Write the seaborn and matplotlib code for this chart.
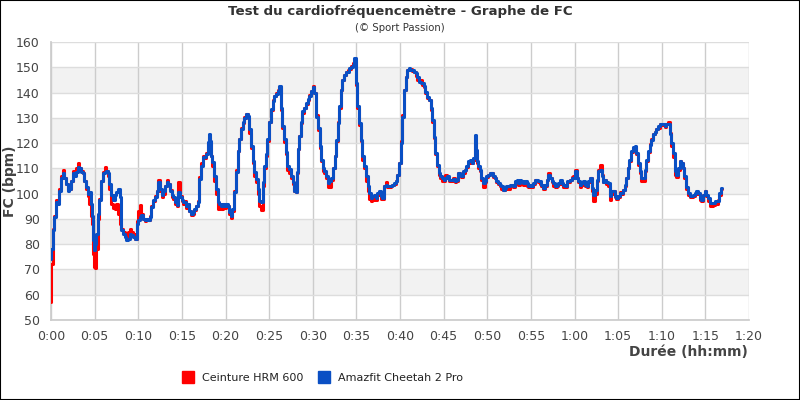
import matplotlib
matplotlib.use("Agg")
import matplotlib.pyplot as plt
from matplotlib.lines import Line2D
from matplotlib.patches import Rectangle
import seaborn as sns
import pandas as pd

# ---- data (minutes, bpm) ----
time_min = [
    0.0, 0.1, 0.27, 0.46, 0.65, 0.85, 1.04, 1.23, 1.42, 1.6, 1.8, 2.0, 2.2, 2.4, 2.6, 2.77, 2.96, 3.15, 3.35, 3.5,
    3.73, 3.9, 4.1, 4.3, 4.5, 4.6, 4.7, 4.9, 5.0, 5.15, 5.27, 5.46, 5.65, 5.85, 6.04, 6.23, 6.4, 6.6, 6.8, 7.0,
    7.2, 7.38, 7.58, 7.77, 7.96, 8.15, 8.35, 8.5, 8.7, 8.9, 9.1, 9.3, 9.5, 9.7, 9.9, 10.08, 10.27, 10.46, 10.65, 10.85,
    11.04, 11.2, 11.4, 11.6, 11.8, 12.0, 12.2, 12.4, 12.6, 12.77, 12.96, 13.15, 13.35, 13.5, 13.73, 13.9, 14.1, 14.3, 14.5, 14.7,
    14.9, 15.1, 15.2, 15.4, 15.6, 15.76, 15.95, 16.15, 16.3, 16.5, 16.7, 16.9, 17.1, 17.3, 17.5, 17.67, 17.86, 18.05, 18.17, 18.3,
    18.4, 18.6, 18.8, 19.0, 19.2, 19.4, 19.6, 19.8, 19.96, 20.15, 20.34, 20.5, 20.65, 20.84, 21.1, 21.3, 21.5, 21.7, 21.9, 22.06,
    22.25, 22.44, 22.63, 22.82, 23.0, 23.2, 23.4, 23.6, 23.8, 23.97, 24.16, 24.35, 24.55, 24.7, 24.9, 25.1, 25.3, 25.5, 25.7, 25.9,
    26.07, 26.26, 26.45, 26.6, 26.8, 27.0, 27.2, 27.4, 27.6, 27.8, 28.0, 28.1, 28.25, 28.4, 28.55, 28.75, 28.9, 29.1, 29.3, 29.5,
    29.7, 29.9, 30.08, 30.27, 30.5, 30.7, 30.9, 31.05, 31.24, 31.4, 31.6, 31.8, 32.0, 32.2, 32.4, 32.6, 32.8, 32.95, 33.1, 33.3,
    33.5, 33.7, 33.9, 34.1, 34.28, 34.47, 34.66, 34.85, 34.96, 35.04, 35.2, 35.4, 35.6, 35.8, 36.0, 36.2, 36.4, 36.6, 36.75, 36.94,
    37.1, 37.3, 37.5, 37.7, 37.9, 38.08, 38.27, 38.46, 38.65, 38.84, 39.03, 39.2, 39.4, 39.6, 39.8, 39.98, 40.17, 40.36, 40.55, 40.74,
    40.93, 41.1, 41.3, 41.5, 41.7, 41.9, 42.07, 42.26, 42.45, 42.64, 42.83, 43.0, 43.2, 43.4, 43.6, 43.78, 43.97, 44.16, 44.35, 44.5,
    44.7, 44.9, 45.1, 45.3, 45.5, 45.8, 46.0, 46.2, 46.4, 46.55, 46.74, 46.9, 47.1, 47.3, 47.5, 47.7, 47.9, 48.1, 48.3, 48.5,
    48.6, 48.66, 48.8, 48.9, 49.04, 49.2, 49.4, 49.6, 49.8, 50.0, 50.2, 50.38, 50.57, 50.77, 50.96, 51.15, 51.34, 51.5, 51.7, 51.9,
    52.1, 52.3, 52.5, 52.7, 52.9, 53.07, 53.26, 53.45, 53.64, 53.83, 54.0, 54.2, 54.4, 54.6, 54.8, 55.0, 55.2, 55.36, 55.55, 55.75,
    55.94, 56.13, 56.3, 56.5, 56.7, 56.9, 57.1, 57.3, 57.47, 57.66, 57.85, 58.05, 58.24, 58.43, 58.6, 58.8, 59.0, 59.2, 59.4, 59.58,
    59.77, 59.96, 60.15, 60.34, 60.5, 60.7, 60.9, 61.1, 61.3, 61.5, 61.7, 61.9, 62.07, 62.26, 62.45, 62.6, 62.8, 63.0, 63.2, 63.36,
    63.55, 63.74, 63.93, 64.1, 64.3, 64.5, 64.7, 64.9, 65.08, 65.27, 65.46, 65.65, 65.84, 66.03, 66.2, 66.4, 66.6, 66.8, 67.0, 67.2,
    67.37, 67.56, 67.75, 67.94, 68.13, 68.3, 68.5, 68.7, 68.9, 69.08, 69.27, 69.47, 69.66, 69.85, 70.04, 70.23, 70.42, 70.6, 70.8, 71.0,
    71.2, 71.37, 71.56, 71.75, 71.95, 72.14, 72.3, 72.5, 72.7, 72.9, 73.1, 73.3, 73.47, 73.66, 73.85, 74.04, 74.24, 74.43, 74.6, 74.8,
    75.0, 75.2, 75.38, 75.57, 75.76, 75.95, 76.15, 76.3, 76.5, 76.7, 76.9,
]

hr_amazfit = [
    74, 78, 85.5, 90.8, 96.7, 96, 101, 106, 108, 106, 104, 101, 102, 105, 108, 107, 108.5, 110.5, 110, 108.5,
    108, 105, 102.6, 100, 100.7, 96, 91, 81.6, 77.6, 80, 84, 92, 97.4, 105, 108, 108.5, 109, 108, 104, 99.3,
    97.4, 99.3, 100.7, 102, 98.7, 85.5, 84.2, 83, 81.6, 82, 84, 83.6, 83, 82, 88, 89.5, 90.8, 91.5, 90, 89.5,
    90, 89.5, 90.8, 94.7, 97.4, 98.7, 101, 104.6, 102, 99.3, 101, 103, 104.6, 104, 101, 99.3, 98.7, 96.7, 95.4, 100.6,
    98.7, 97.4, 96.6, 96.6, 95.3, 96, 93.3, 92, 92.6, 94, 95.3, 96.6, 105.8, 111, 114.3, 114.3, 115.7, 120.3, 123.6, 121,
    115, 112.4, 107, 101.8, 96.6, 96, 95.3, 96, 95.3, 96, 95.3, 92.6, 91.3, 94, 100.5, 108.4, 117, 121.6, 125.5, 128.2,
    130, 131.4, 130.8, 125.5, 119, 113, 108.4, 105.8, 101.8, 97.2, 96.6, 104.5, 111, 115.7, 121.6, 128.2, 133.4, 136.7, 138.7, 139.3,
    140.7, 142.6, 134, 126.8, 121.6, 116.3, 111, 109.7, 107, 104.5, 101.2, 100.5, 108.4, 117.6, 122.9, 128.2, 132.8, 134, 136, 137.4,
    138.7, 140.7, 142, 140, 130.5, 126, 118.7, 113.4, 110, 108.8, 106.8, 104.2, 104.9, 106.2, 110, 114.7, 121.3, 127.9, 134.5, 141,
    145, 147, 148.3, 148.3, 149.6, 150.3, 151, 153.6, 149, 143.7, 134.5, 127.9, 121.3, 114.7, 110.8, 106.8, 102.9, 100.3, 98.3, 98.9,
    99.6, 98.3, 100.3, 100.9, 98.9, 98.3, 102.9, 103.6, 102.9, 102.9, 102.9, 103.6, 104.2, 104.9, 107.5, 112, 120, 130.5, 141, 146.3,
    149, 149.6, 149, 149, 148.3, 147.6, 146.3, 144.3, 143.7, 143.7, 142.4, 140.4, 138.4, 137.1, 133.8, 129.2, 122.6, 116, 111.4, 108.2,
    106.8, 106.2, 105.5, 106.2, 106.8, 105.5, 105.5, 105.8, 104.9, 105.5, 108.2, 107.5, 106.8, 108.8, 109.5, 110.8, 112.8, 113.4, 112.1, 114,
    116, 123.3, 117.4, 112.8, 110.8, 109.5, 106.2, 104.2, 104.9, 106.8, 107.5, 108.2, 108.2, 106.8, 106.2, 104.9, 104.2, 103.6, 102.9, 101.6,
    102.2, 102.9, 102.9, 103.6, 103.6, 102.9, 104.9, 105.5, 104.2, 105.5, 104.9, 104.2, 104.9, 104.2, 102.9, 103.6, 102.9, 104.2, 105.5, 105.5,
    104.9, 104.9, 103.6, 102.2, 103.6, 105.5, 107.5, 106.2, 104.9, 104.2, 102.9, 103.6, 104.2, 105.5, 104.2, 103.6, 102.9, 104.9, 104.9, 105.5,
    106.2, 106.2, 108.8, 106.2, 104.9, 103.6, 104.2, 104.9, 103.6, 102.9, 104.9, 106.2, 102.2, 99.6, 101.6, 105.5, 108.8, 109.5, 106.8, 104.8,
    105.5, 104.8, 104.2, 98.9, 100.9, 100.9, 98.9, 98.2, 98.9, 100.2, 100.2, 101.5, 103.5, 106.2, 110.1, 113.4, 116.8, 118.5, 118.7, 116.1,
    112.1, 108.8, 106.2, 106.2, 109.5, 113.4, 116.8, 119.4, 121.4, 123.4, 124.3, 125.4, 126.7, 127.4, 127.4, 127.4, 126.7, 127.4, 127.4, 123.4,
    120.1, 116.1, 108.8, 107.5, 110.1, 112.8, 112.1, 110.1, 106.8, 102.8, 100.2, 98.9, 98.9, 99.5, 100.2, 100.9, 100.2, 98.2, 97.5, 99.5,
    100.9, 99.5, 98.2, 96.2, 96.2, 96.2, 96.9, 96.9, 96.9, 100.2, 102.2,
]

hr_ceinture = [
    57, 72, 86, 91, 97.5, 97, 102, 107, 109.5, 106, 104, 101.5, 102, 105, 109, 108, 110, 112, 110, 109,
    108, 105, 102, 99, 96, 91, 88, 76, 71, 70.5, 78, 90, 98, 105, 108.5, 110.5, 109, 107, 102, 96,
    94.5, 94, 96, 92, 88, 86, 85, 84, 83, 85, 86, 85, 84, 82, 89, 93, 95.5, 92, 90, 89,
    90, 89.5, 91, 95, 97, 99, 101, 105.5, 101, 98.5, 100, 103, 105.5, 104, 101.5, 98.5, 98, 96, 95, 104.6,
    99, 97, 96, 97, 94.5, 96, 93, 91.5, 92, 93.5, 95, 97, 106.5, 112, 115, 114, 116, 120, 122.5, 120,
    115, 111, 105, 100, 94, 95.5, 94, 96, 94.5, 95.5, 95, 92, 90.5, 93, 101, 109.5, 117, 121.5, 126, 128,
    130.5, 131.5, 130, 124, 118, 112, 107, 104.5, 100, 95, 93.5, 103, 110, 115, 121, 128.5, 133, 137, 138.5, 140,
    141, 142, 133, 126, 120.5, 115.5, 109.5, 108, 106, 104, 101, 100.5, 108, 117.5, 123, 128, 132, 134, 135.5, 137,
    139, 140.5, 142.5, 140, 131, 125, 118, 113, 109, 108, 106, 102.5, 102.5, 105.5, 110, 115, 121, 128.5, 134, 141,
    145, 147, 148, 149, 149.5, 150.5, 151.5, 152.5, 148.5, 143, 134, 127, 121, 113.5, 110, 105, 101, 98, 97, 97.5,
    98.5, 97.5, 99.5, 100.5, 98, 98, 103, 104.5, 102.5, 102.5, 103, 103.5, 104, 105, 107.5, 112, 121, 131, 141, 146,
    149, 149.5, 149.5, 148.5, 148, 146.5, 145, 144.5, 145, 143, 142, 140, 138, 137, 133, 128.5, 122, 115.5, 111, 107.5,
    106, 105, 105, 107.5, 106, 105, 105, 106, 104.5, 105, 108, 107, 106.5, 108, 109.5, 110.5, 112, 113, 112, 113.5,
    115, 120, 116, 112, 110, 109, 105.5, 102.5, 104.5, 106.5, 107.5, 108, 108, 106.5, 106, 104.5, 104, 103, 102, 101.5,
    102, 102.5, 102, 103, 103.5, 102.5, 104.5, 105, 103.5, 105, 105, 103.5, 104.5, 103, 102.5, 103, 102.5, 104, 105.5, 105,
    104.5, 104, 103, 102, 103, 105.5, 108, 106, 104.5, 103, 102.5, 103, 104, 105, 104, 102.5, 102.5, 104.5, 104.5, 105.5,
    106.5, 107, 109.5, 106, 104.5, 102.5, 103.5, 104.5, 103, 102.5, 104.5, 106, 101, 97, 100, 105, 109.5, 111.5, 107.5, 104.5,
    105.5, 104, 103, 97.5, 100, 101, 98.5, 98, 98.5, 100.5, 100, 101.5, 103, 106, 110, 113, 116.5, 118, 118.5, 115.5,
    111.5, 108, 105, 105, 109, 113, 116.5, 119.5, 121.5, 123.5, 124.5, 125.5, 126, 127.5, 127, 127, 126.5, 127.5, 128.5, 124,
    119, 114.5, 107.5, 106.5, 109.5, 113, 112, 110, 106, 102, 99.5, 98.5, 98.5, 99, 100, 100.5, 100, 97.5, 97, 99.5,
    101, 99, 97, 95, 95, 95.5, 96, 96, 97.5, 99.5, 102,
]

series_names = ["Ceinture HRM 600", "Amazfit Cheetah 2 Pro"]
series_colors = ["#ff0000", "#0a4fc4"]
y_ticks = list(range(50, 161, 10))
x_ticks = list(range(0, 81, 5))
x_tick_labels = ["0:00", "0:05", "0:10", "0:15", "0:20", "0:25", "0:30", "0:35", "0:40",
                 "0:45", "0:50", "0:55", "1:00", "1:05", "1:10", "1:15", "1:20"]

df = pd.DataFrame({
    "t": time_min * 2,
    "bpm": hr_ceinture + hr_amazfit,
    "serie": [series_names[0]] * len(time_min) + [series_names[1]] * len(time_min),
})

sns.set_theme(style="white")
plt.rcParams["font.family"] = ["DejaVu Sans"]

fig = plt.figure(figsize=(8, 4), dpi=100)
ax = fig.add_axes([51 / 800, 80 / 400, 698 / 800, 278 / 400])

# alternating bands
for lo in range(60, 160, 20):
    ax.axhspan(lo, lo + 10, color="#f2f2f2", zorder=0, lw=0)

sns.lineplot(data=df, x="t", y="bpm", hue="serie", palette=dict(zip(series_names, series_colors)),
             estimator=None, sort=False, legend=False, linewidth=2.2, ax=ax, zorder=3,
             drawstyle="steps-mid")

ax.set_xlim(0, 80)
ax.set_ylim(50, 160)
ax.set_xticks(x_ticks)
ax.set_xticklabels(x_tick_labels)
ax.set_yticks(y_ticks)
ax.tick_params(axis="both", length=0, labelsize=9, colors="#444444")
ax.tick_params(axis="x", pad=7)
ax.tick_params(axis="y", pad=8)
ax.yaxis.grid(True, color="#dddddd", lw=1)
ax.xaxis.grid(True, color="#cccccc", lw=1)
ax.set_axisbelow(True)
for s in ["top", "right"]:
    ax.spines[s].set_visible(False)
ax.spines["left"].set_color("#cccccc")
ax.spines["bottom"].set_color("#cccccc")

ax.set_xlabel("")
ax.set_ylabel("")
fig.text(10 / 800, 1 - 181 / 400, "FC (bpm)", ha="center", va="center", rotation=90,
         fontsize=10, fontweight="bold", color="#444444")
fig.text(748 / 800, 1 - 352 / 400, "Durée (hh:mm)", ha="right", va="center",
         fontsize=10, fontweight="bold", color="#444444")

fig.text(0.5, 1 - 11 / 400, "Test du cardiofréquencemètre - Graphe de FC", ha="center", va="center",
         fontsize=9.6, fontweight="bold", color="#333333")
fig.text(0.5, 1 - 28 / 400, "(© Sport Passion)", ha="center", va="center",
         fontsize=7.3, color="#333333")

handles = [Line2D([], [], marker="s", linestyle="", markersize=8, color=c) for c in series_colors]
fig.legend(handles, series_names, loc="center", bbox_to_anchor=(0.40, 1 - 378 / 400), ncol=2,
           frameon=False, fontsize=8, handletextpad=0.3, columnspacing=0.8, labelcolor="#222222")

fig.add_artist(Rectangle((0, 0), 1, 1, transform=fig.transFigure, fill=False, ec="black", lw=1.5))

fig.savefig("out.png", dpi=100)
